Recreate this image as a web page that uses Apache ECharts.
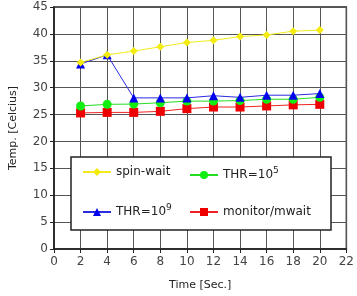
<!DOCTYPE html>
<html>
<head>
<meta charset="utf-8">
<script src="https://cdn.jsdelivr.net/npm/echarts@6/dist/echarts.min.js"></script>
<style>
  html, body { margin: 0; padding: 0; background: #fff; }
  #chart { width: 357px; height: 296px; }
</style>
</head>
<body>
<div id="chart"></div>
<script>
// time in seconds
var times = [2, 4, 6, 8, 10, 12, 14, 16, 18, 20];
var spinWait = [34.7, 36.1, 36.8, 37.6, 38.4, 38.8, 39.5, 39.8, 40.5, 40.7];
var thr9 = [34.4, 36.1, 28.1, 28.1, 28.1, 28.5, 28.2, 28.6, 28.6, 28.9];
var thr5 = [26.6, 26.9, 26.95, 27.2, 27.5, 27.5, 27.6, 27.85, 27.85, 28.2];
var monitor = [25.3, 25.4, 25.4, 25.6, 26.1, 26.4, 26.4, 26.6, 26.8, 26.9];
var yTicks = [0, 5, 10, 15, 20, 25, 30, 35, 40, 45];
var xTicks = [0, 2, 4, 6, 8, 10, 12, 14, 16, 18, 20, 22];

function pairs(ys) {
    return times.map(function (t, i) { return [t, ys[i]]; });
}

var font = '"DejaVu Sans", sans-serif';
var chart = echarts.init(document.getElementById('chart'));

var legendText = {
    color: '#222',
    fontFamily: font,
    fontSize: 12,
    rich: {
        sup: { fontSize: 9, fontFamily: font, color: '#222', padding: [0, 0, 9, 0] }
    }
};
function legendFmt(name) {
    if (name === 'THR=10^9') return 'THR=10{sup|9}';
    if (name === 'THR=10^5') return 'THR=10{sup|5}';
    return name;
}

chart.setOption({
    animation: false,
    grid: { left: 46, right: 5, top: 7, bottom: 43, show: true, borderColor: '#222', borderWidth: 1.5 },
    graphic: [{
        type: 'rect', z: 50,
        shape: { x: 71, y: 157, width: 260, height: 73 },
        style: { fill: '#fff', stroke: '#222', lineWidth: 1.5 }
    }],
    legend: [{
        data: ['spin-wait', 'THR=10^9'],
        orient: 'vertical', left: 77, top: 161, itemGap: 25,
        itemWidth: 28, itemHeight: 10, z: 60,
        formatter: legendFmt, textStyle: legendText
    }, {
        data: ['THR=10^5', 'monitor/mwait'],
        orient: 'vertical', left: 184, top: 161, itemGap: 25,
        itemWidth: 28, itemHeight: 10, z: 60,
        formatter: legendFmt, textStyle: legendText
    }],
    xAxis: {
        type: 'value', min: xTicks[0], max: xTicks[xTicks.length - 1], interval: 2,
        name: 'Time [Sec.]', nameLocation: 'middle', nameGap: 31,
        nameTextStyle: { color: '#222', fontFamily: font, fontSize: 11 },
        axisLine: { lineStyle: { color: '#222', width: 1.5 } },
        axisTick: { show: true, length: 4, lineStyle: { color: '#222' } },
        axisLabel: { color: '#444', fontFamily: font, fontSize: 12, margin: 7 },
        splitLine: { show: true, lineStyle: { color: '#555', width: 1 } }
    },
    yAxis: {
        type: 'value', min: yTicks[0], max: yTicks[yTicks.length - 1], interval: 5,
        name: 'Temp. [Celcius]', nameLocation: 'middle', nameGap: 35,
        nameTextStyle: { color: '#222', fontFamily: font, fontSize: 11 },
        axisLine: { show: true, lineStyle: { color: '#222', width: 1.5 } },
        axisTick: { show: true, length: 4, lineStyle: { color: '#222' } },
        axisLabel: { color: '#444', fontFamily: font, fontSize: 12, margin: 6 },
        splitLine: { show: true, lineStyle: { color: '#555', width: 1 } }
    },
    // drawn bottom-up: red, green, blue, yellow on top
    series: [{
        name: 'monitor/mwait', type: 'line', data: pairs(monitor), z: 2,
        symbol: 'rect', symbolSize: 9,
        lineStyle: { color: '#ee2222', width: 1 },
        itemStyle: { color: '#ee0000' }
    }, {
        name: 'THR=10^5', type: 'line', data: pairs(thr5), z: 3,
        symbol: 'circle', symbolSize: 9,
        lineStyle: { color: '#22dd22', width: 1 },
        itemStyle: { color: '#11ee11' }
    }, {
        name: 'THR=10^9', type: 'line', data: pairs(thr9), z: 4,
        symbol: 'triangle', symbolSize: 9,
        lineStyle: { color: '#2a2ae0', width: 1 },
        itemStyle: { color: '#0000ee' }
    }, {
        name: 'spin-wait', type: 'line', data: pairs(spinWait), z: 5,
        symbol: 'diamond', symbolSize: 8,
        lineStyle: { color: '#f2ea1c', width: 1 },
        itemStyle: { color: '#f4ec10' }
    }]
});
</script>
</body>
</html>
